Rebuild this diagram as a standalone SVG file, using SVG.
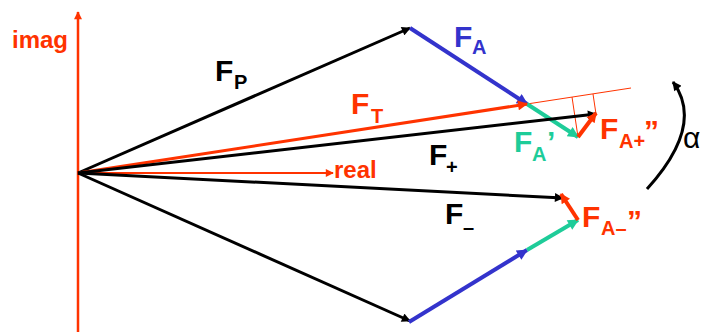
<svg xmlns="http://www.w3.org/2000/svg" width="704" height="332" viewBox="0 0 704 332">
<style>
text{font-family:"Liberation Sans",Arial,sans-serif;font-weight:bold}
.big{font-size:30px}
.sub{font-size:20px}
.ax{font-size:24px;fill:#ff3300}
.or{fill:#ff3300}.bk{fill:#000}.bl{fill:#3333cc}.gr{fill:#1ecc99}
.v{fill:none;stroke-linecap:butt}
</style>
<defs>
<marker id="mk" viewBox="0 0 10 10" refX="9" refY="5" markerUnits="userSpaceOnUse" markerWidth="10" markerHeight="9" orient="auto"><path d="M0,0L10,5L0,10z" fill="#000"/></marker>
<marker id="mb" viewBox="0 0 10 10" refX="9" refY="5" markerUnits="userSpaceOnUse" markerWidth="13" markerHeight="11" orient="auto"><path d="M0,0L10,5L0,10z" fill="#3333cc"/></marker>
<marker id="mg" viewBox="0 0 10 10" refX="9" refY="5" markerUnits="userSpaceOnUse" markerWidth="13" markerHeight="11" orient="auto"><path d="M0,0L10,5L0,10z" fill="#1ecc99"/></marker>
<marker id="mr" viewBox="0 0 10 10" refX="9" refY="5" markerUnits="userSpaceOnUse" markerWidth="11" markerHeight="10" orient="auto"><path d="M0,0L10,5L0,10z" fill="#ff3300"/></marker>
<marker id="ma" viewBox="0 0 10 10" refX="9" refY="5" markerUnits="userSpaceOnUse" markerWidth="9" markerHeight="8" orient="auto"><path d="M0,0L10,5L0,10z" fill="#ff3300"/></marker>
</defs>
<g id="connectors">
<line class="v" x1="78" y1="332" x2="78" y2="12" stroke="#ff3300" stroke-width="2.5" marker-end="url(#ma)"/>
<line class="v" x1="78" y1="173" x2="333" y2="173" stroke="#ff3300" stroke-width="2" marker-end="url(#ma)"/>
<line class="v" x1="527" y1="104" x2="631" y2="88" stroke="#ff3300" stroke-width="1"/>
<line class="v" x1="572" y1="97" x2="578" y2="137" stroke="#ff3300" stroke-width="1"/>
<line class="v" x1="593" y1="94" x2="596" y2="114" stroke="#ff3300" stroke-width="1"/>
<line class="v" x1="78" y1="173" x2="410" y2="28" stroke="#000" stroke-width="3" marker-end="url(#mk)"/>
<line class="v" x1="410" y1="28" x2="527" y2="104" stroke="#3333cc" stroke-width="4" marker-end="url(#mb)"/>
<line class="v" x1="527" y1="104" x2="578" y2="137" stroke="#1ecc99" stroke-width="4" marker-end="url(#mg)"/>
<line class="v" x1="78" y1="173" x2="527" y2="104" stroke="#ff3300" stroke-width="3" marker-end="url(#mr)"/>
<line class="v" x1="78" y1="173" x2="596" y2="114" stroke="#000" stroke-width="3" marker-end="url(#mk)"/>
<line class="v" x1="578" y1="137" x2="596" y2="113" stroke="#ff3300" stroke-width="4" marker-end="url(#mr)"/>
<line class="v" x1="78" y1="173" x2="563" y2="198" stroke="#000" stroke-width="3" marker-end="url(#mk)"/>
<line class="v" x1="78" y1="173" x2="410" y2="321" stroke="#000" stroke-width="3" marker-end="url(#mk)"/>
<line class="v" x1="409" y1="322" x2="527" y2="250" stroke="#3333cc" stroke-width="4" marker-end="url(#mb)"/>
<line class="v" x1="527" y1="250" x2="578" y2="220" stroke="#1ecc99" stroke-width="4" marker-end="url(#mg)"/>
<line class="v" x1="578" y1="220" x2="561" y2="194" stroke="#ff3300" stroke-width="4" marker-end="url(#mr)"/>
<path class="v" d="M647,189 Q705,125 673,82" stroke="#000" stroke-width="3" marker-end="url(#mk)"/>
</g>
<g id="axis-labels">
<text class="ax" x="12" y="48">imag</text>
<text class="ax" x="334" y="178">real</text>
</g>
<g id="label-FP"><text class="bk"><tspan class="big" x="215" y="81">F</tspan><tspan class="sub" x="234" y="89">P</tspan></text></g>
<g id="label-FA"><text class="bl"><tspan class="big" x="454" y="47">F</tspan><tspan class="sub" x="472" y="54">A</tspan></text></g>
<g id="label-FT"><text class="or"><tspan class="big" x="351" y="114">F</tspan><tspan class="sub" x="371" y="123">T</tspan></text></g>
<g id="label-FA1"><text class="gr"><tspan class="big" x="514" y="152">F</tspan><tspan class="sub" x="532" y="161">A</tspan><tspan class="big" x="547" y="152">’</tspan></text></g>
<g id="label-FAp"><text class="or"><tspan class="big" x="600" y="139">F</tspan><tspan class="sub" x="619" y="148">A+</tspan><tspan class="big" x="644" y="141">”</tspan></text></g>
<g id="label-Fp"><text class="bk"><tspan class="big" x="429" y="165">F</tspan><tspan class="sub" x="446" y="174">+</tspan></text></g>
<g id="label-Fm"><text class="bk"><tspan class="big" x="445" y="224">F</tspan><tspan class="sub" x="463" y="234">–</tspan></text></g>
<g id="label-FAm"><text class="or"><tspan class="big" x="582" y="227">F</tspan><tspan class="sub" x="601" y="235">A–</tspan><tspan class="big" x="627" y="231">”</tspan></text></g>
<g id="label-alpha"><text x="683" y="148" style="font-size:30px;font-weight:normal" fill="#000">α</text></g>
</svg>
